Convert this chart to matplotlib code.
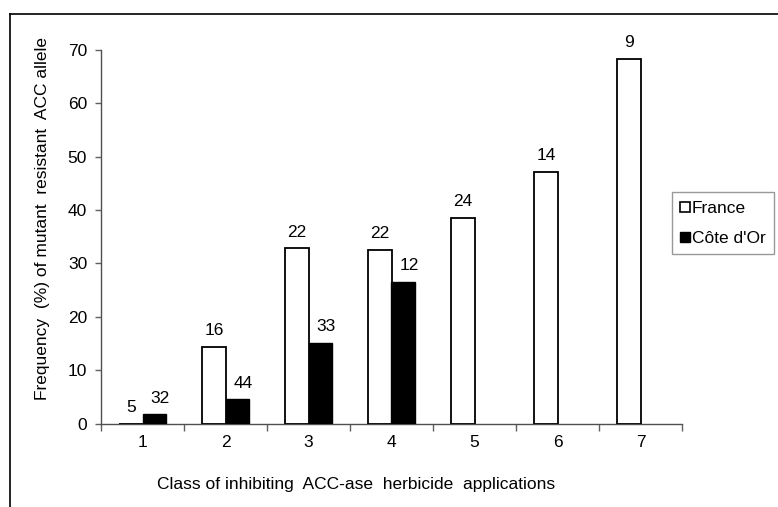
import matplotlib
matplotlib.use("Agg")
import matplotlib.pyplot as plt
import numpy as np
from matplotlib.lines import Line2D

plt.rcParams['font.family'] = ['Liberation Sans', 'DejaVu Sans']

categories = ['1', '2', '3', '4', '5', '6', '7']
france = [0.0, 14.4, 32.8, 32.5, 38.6, 47.2, 68.4]
cote_dor = [1.7, 4.5, 15.1, 26.5, np.nan, np.nan, np.nan]
france_n = ['5', '16', '22', '22', '24', '14', '9']
cote_dor_n = ['32', '44', '33', '12', '', '', '']

FS = 12.5

fig = plt.figure(figsize=(7.78, 5.07), dpi=100)
ax = fig.add_axes([101/778, 1 - 423.5/507, (682 - 101)/778, (423.5 - 50)/507])

x = np.arange(1, len(categories) + 1)
w = 0.28
ax.bar(x - w/2, france, w, facecolor='white', edgecolor='black', linewidth=1.3, label='France', zorder=3)
ax.bar(x + w/2, cote_dor, w, facecolor='black', edgecolor='black', linewidth=1.0, label="Côte d'Or", zorder=3)

for xi, v, n in zip(x, france, france_n):
    ax.annotate(n, (xi - w/2, v), xytext=(0, 8.5), textcoords='offset points',
                ha='center', va='baseline', fontsize=FS)
for xi, v, n in zip(x, cote_dor, cote_dor_n):
    if n and not np.isnan(v):
        ax.annotate(n, (xi + w/2, v), xytext=(4.5, 8.5), textcoords='offset points',
                    ha='center', va='baseline', fontsize=FS)

ax.set_xlim(0.5, 7.5)
ax.set_ylim(0, 70)
ax.set_yticks(np.arange(0, 71, 10))
ax.set_xticks(np.arange(0.5, 7.6, 1.0))
ax.set_xticklabels([])
ax.set_xticks(x, minor=True)
ax.set_xticklabels(categories, minor=True)
ax.tick_params(axis='x', which='major', length=5, color='#606060', width=1)
ax.tick_params(axis='x', which='minor', length=0, pad=8, labelsize=FS)
ax.tick_params(axis='y', length=4, color='#606060', width=1, pad=6, labelsize=FS)

for s in ['top', 'right']:
    ax.spines[s].set_visible(False)
for s in ['left', 'bottom']:
    ax.spines[s].set_color('#505050')
    ax.spines[s].set_linewidth(1.0)

fig.text(43/778, 1 - 219/507, 'Frequency  (%) of mutant  resistant  ACC allele',
         rotation=90, ha='center', va='center', fontsize=FS)
fig.text(356/778, 1 - 485/507, 'Class of inhibiting  ACC-ase  herbicide  applications',
         ha='center', va='center', fontsize=FS)

handles = [Line2D([], [], marker='s', linestyle='none', markersize=7,
                  markerfacecolor='white', markeredgecolor='black', markeredgewidth=1.2),
           Line2D([], [], marker='s', linestyle='none', markersize=7,
                  markerfacecolor='black', markeredgecolor='black')]
leg = fig.legend(handles, ['France', "Côte d'Or"], loc='upper left',
                 bbox_to_anchor=(672/778, 1 - 192/507), fontsize=FS,
                 frameon=True, fancybox=False, handlelength=0.5, handletextpad=0.15,
                 borderpad=0.5, labelspacing=0.85, borderaxespad=0)
leg.get_frame().set_edgecolor('#808080')
leg.get_frame().set_linewidth(1.0)

fig.add_artist(Line2D([9.5/778, 9.5/778], [0, 1 - 13.5/507], transform=fig.transFigure,
                      color='black', linewidth=1.2))
fig.add_artist(Line2D([9.5/778, 1], [1 - 13.5/507, 1 - 13.5/507], transform=fig.transFigure,
                      color='black', linewidth=1.2))

fig.savefig('out.png', dpi=100)
